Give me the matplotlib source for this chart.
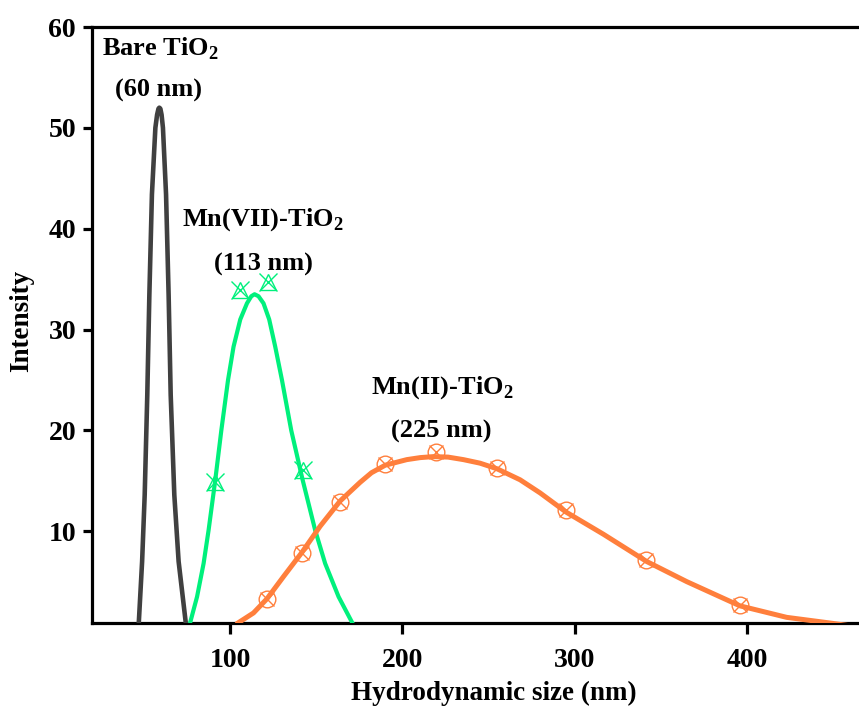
import matplotlib
matplotlib.use("Agg")
import matplotlib.pyplot as plt

plt.rcParams['font.family'] = ['Liberation Serif', 'DejaVu Serif']
plt.rcParams['font.weight'] = 'bold'
plt.rcParams['mathtext.fontset'] = 'custom'
plt.rcParams['mathtext.rm'] = 'Liberation Serif:bold'
plt.rcParams['mathtext.bf'] = 'Liberation Serif:bold'

# Bare TiO2 fitted curve
bare_x = [46.8, 48.8, 50.3, 51.8, 53.0, 54.5, 56.5, 57.5, 58.3, 58.8, 59.4, 60.1, 60.9, 62.7, 64.2, 65.4, 67.5, 70.0, 74.3]
bare_y = [0.7, 7.0, 13.6, 23.5, 33.4, 43.4, 50.0, 51.3, 51.9, 52.0, 51.9, 51.3, 50.0, 43.4, 33.4, 23.5, 13.6, 7.0, 0.7]

# Mn(VII)-TiO2 fitted curve
mn7_x = [76.8, 80.7, 84.5, 87.4, 91.3, 94.8, 98.7, 101.9, 105.8, 109.7, 112.2, 114.1,
         116.4, 119.3, 122.6, 126.1, 130.0, 135.4, 142.0, 149.3, 155.1, 162.9, 170.6]
mn7_y = [1.0, 3.5, 6.8, 10.1, 15.1, 20.0, 25.0, 28.3, 31.0, 32.6, 33.3, 33.5,
         33.3, 32.6, 31.0, 28.3, 25.0, 20.0, 15.1, 10.1, 6.8, 3.5, 1.0]
# Mn(VII)-TiO2 measured points
mn7_px = [91.3, 105.8, 121.9, 142.2]
mn7_py = [14.9, 33.9, 34.75, 16.1]

# Mn(II)-TiO2 fitted curve
mn2_x = [104.6, 113.5, 121.3, 130.9, 141.6, 152.2, 163.8, 175.4, 182.0, 190.0, 202.5, 210.3, 218.0,
         226.5, 235.4, 245.0, 254.8, 268.3, 279.9, 295.0, 316.7, 341.8, 365.1, 396.0, 423.1, 448.2, 465.0]
mn2_y = [0.92, 1.9, 3.3, 5.5, 7.9, 10.5, 13.0, 14.85, 15.8, 16.55, 17.1, 17.3, 17.4,
         17.35, 17.1, 16.75, 16.2, 15.1, 13.8, 11.9, 9.7, 7.0, 5.0, 2.6, 1.46, 0.9, 0.5]
# Mn(II)-TiO2 measured points
mn2_px = [121.3, 141.6, 163.8, 190.0, 219.6, 254.8, 295.0, 341.7, 396.0]
mn2_py = [3.3, 7.8, 12.9, 16.7, 17.9, 16.3, 12.1, 7.1, 2.7]

x_ticks = [100, 200, 300, 400]
y_ticks = [10, 20, 30, 40, 50, 60]

c_bare = '#404040'
c_mn7 = '#00F07C'
c_mn2 = '#FF7F3C'

fig = plt.figure(figsize=(8.59, 7.08), dpi=100)
ax = fig.add_axes([92/859, 85/708, 1 - 92/859, 596/708])

ax.plot(bare_x, bare_y, color=c_bare, lw=3.3, solid_joinstyle='round', zorder=3)
ax.plot(mn7_x, mn7_y, color=c_mn7, lw=3.0, solid_joinstyle='round', zorder=3)
ax.plot(mn2_x, mn2_y, color=c_mn2, lw=3.6, solid_joinstyle='round', zorder=3)

ax.plot(mn7_px, mn7_py, ls='none', marker='^', ms=12, mfc='none', mec=c_mn7, mew=1.0, zorder=4)
ax.plot(mn7_px, mn7_py, ls='none', marker='x', ms=13, mec=c_mn7, mew=1.0, zorder=4)
ax.plot(mn2_px, mn2_py, ls='none', marker='o', ms=12, mfc='none', mec=c_mn2, mew=1.0, zorder=4)
ax.plot(mn2_px, mn2_py, ls='none', marker='x', ms=10, mec=c_mn2, mew=1.0, zorder=4)

ax.set_xlim(19.7, 465.1)
ax.set_ylim(0.9, 60)
ax.set_xticks(x_ticks)
ax.set_yticks(y_ticks)
ax.set_xticklabels([str(v) for v in x_ticks])
ax.set_yticklabels([str(v) for v in y_ticks])

for s in ['left', 'bottom', 'top']:
    ax.spines[s].set_linewidth(2.3)
ax.spines['right'].set_visible(False)
ax.tick_params(axis='x', direction='out', length=8, width=2.3, labelsize=20, pad=10, top=False)
ax.tick_params(axis='y', direction='out', length=6.5, width=2.3, labelsize=20, pad=5, right=False)
for lab in ax.get_xticklabels() + ax.get_yticklabels():
    lab.set_fontweight('bold')

ax.set_xlabel('Hydrodynamic size (nm)', fontsize=19.5, fontweight='bold')
ax.set_ylabel('Intensity', fontsize=19.5, fontweight='bold')
ax.xaxis.set_label_coords((494 - 92) / 767, -(693 - 623) / 596, transform=ax.transAxes)
ax.xaxis.label.set_va('center')
ax.yaxis.set_label_coords(-(92 - 22) / 767, (623 - 321) / 596, transform=ax.transAxes)
ax.yaxis.label.set_va('center')

tkw = dict(fontsize=19, fontweight='bold', ha='center', va='center')
ax.text(59.3, 57.8, r'Bare TiO$_{2}$', **tkw)
ax.text(58.5, 53.7, '(60 nm)', **tkw)
ax.text(119.0, 40.9, r'Mn(VII)-TiO$_{2}$', **tkw)
ax.text(119.0, 36.5, '(113 nm)', **tkw)
ax.text(223.0, 24.2, r'Mn(II)-TiO$_{2}$', **tkw)
ax.text(222.5, 19.9, '(225 nm)', **tkw)

fig.savefig('out.png', dpi=100)
